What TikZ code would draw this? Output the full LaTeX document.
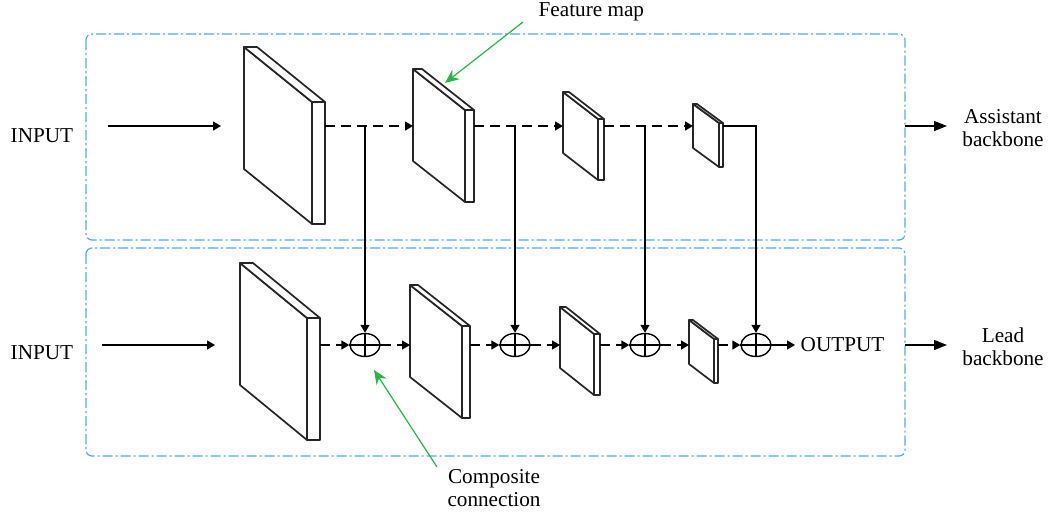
\documentclass[tikz,border=0pt]{standalone}
\usepackage{fontspec}
\setmainfont{Liberation Serif}
\usetikzlibrary{arrows.meta,positioning,shapes.geometric,calc}

\definecolor{boxblue}{RGB}{80,172,222}
\definecolor{notegreen}{RGB}{40,182,70}

% one feature map slab: name, left, top, width, drop, height, thickness
\newcommand{\featmap}[7]{%
  \draw[slab] (#2,#3) -- (#2+#4,#3+#5) -- (#2+#4,#3+#5+#6) -- (#2,#3+#6) -- cycle;
  \draw[slab] (#2,#3) -- (#2+#7,#3) -- (#2+#4+#7,#3+#5) -- (#2+#4,#3+#5) -- cycle;
  \draw[slab] (#2+#4,#3+#5) rectangle (#2+#4+#7,#3+#5+#6);
  \coordinate (#1-l) at (#2,#3);
  \coordinate (#1-r) at (#2+#4+#7,#3+#5);
}

\begin{document}
\begin{tikzpicture}[x=0.5pt,y=-0.5pt,line width=0.7pt,
		every node/.style={font=\fontsize{10.6}{11.6}\selectfont},
		slab/.style={draw=black!85,line width=0.85pt,fill=white,line join=round},
		flow/.style={-{Triangle[length=4pt,width=4.5pt]}},
		dflow/.style={flow,dash pattern=on 5pt off 3pt},
		bigflow/.style={-{Triangle[length=6.5pt,width=5pt]}},
		pointer/.style={draw=notegreen,line width=0.6pt,-{Stealth[length=7pt,width=6pt]}},
		bluebox/.style={draw=boxblue,line width=0.6pt,rounded corners=3pt,
		dash pattern=on 5pt off 1.5pt on 1pt off 1.5pt},
		adder/.style={ellipse,draw,line width=0.7pt,fill=white,inner sep=0pt,
		minimum width=15pt,minimum height=11.5pt},
		]
		\useasboundingbox (0,0) rectangle (1048,515);

		% the two backbones
		\draw[bluebox] (86,34) rectangle (905,240);
		\draw[bluebox] (86,248) rectangle (905,456);
		\coordinate (top) at (0,126);
		\coordinate (bot) at (0,345);

		% assistant backbone
		\featmap{s1}{244}{47}{68}{55}{122}{13}
		\featmap{s2}{413}{69}{52}{41}{92}{9}
		\featmap{s3}{563}{92}{35}{27}{61}{6}
		\featmap{s4}{693}{104}{26}{19}{44}{4}

		% lead backbone
		\featmap{b1}{240}{263}{67}{55}{122}{13}
		\featmap{b2}{410}{285}{52}{41}{92}{8}
		\featmap{b3}{560}{307}{34}{27}{61}{6}
		\featmap{b4}{689}{320}{25}{19}{44}{4}

		% composite connections
		\foreach \i/\x in {1/365,2/515,3/645,4/756} {
			\node[adder] (c\i) at (\x,345) {};
			\draw (c\i.north) -- (c\i.south) (c\i.west) -- (c\i.east);
		}

		% inputs
		\node[anchor=base west,inner sep=0pt] (in1) at (10,142) {INPUT};
		\node[anchor=base west,inner sep=0pt] (in2) at (10,359) {INPUT};
		\coordinate (in1-a) at (108,126);
		\coordinate (in1-b) at (221,126);
		\coordinate (in2-a) at (102,345);
		\coordinate (in2-b) at (215,345);
		\draw[flow] (in1-a) -- (in1-b);
		\draw[flow] (in2-a) -- (in2-b);

		% assistant flow
		\draw[dflow] (s1-r |- top) -- (s2-l |- top);
		\draw[dflow] (s2-r |- top) -- (s3-l |- top);
		\draw[dflow] (s3-r |- top) -- (s4-l |- top);
		\draw[flow] (s4-r |- top) -- (c4 |- top) -- (c4.north);
		\foreach \i in {1,2,3}
			\draw[flow] (c\i |- top) -- (c\i.north);

		% lead flow
		\draw[dflow] (b1-r |- bot) -- (c1.west);
		\draw[dflow] (c1.east) -- (b2-l |- bot);
		\draw[dflow] (b2-r |- bot) -- (c2.west);
		\draw[dflow] (c2.east) -- (b3-l |- bot);
		\draw[dflow] (b3-r |- bot) -- (c3.west);
		\draw[dflow] (c3.east) -- (b4-l |- bot);
		\draw[dflow] (b4-r |- bot) -- (c4.west);
		\node[anchor=west,inner sep=0pt] (out) at (800,345) {OUTPUT};
		\draw[flow] (c4.east) -- ([xshift=-2.5pt]out.west);

		% outputs of the backbones
		\node[align=center,inner sep=0pt] (asst) at (1003,128) {Assistant\\backbone};
		\node[align=center,inner sep=0pt] (lead) at (1003,347) {Lead\\backbone};
		\coordinate (asst-a) at (905,126);
		\coordinate (asst-b) at (947,126);
		\coordinate (lead-a) at (905,345);
		\coordinate (lead-b) at (947,345);
		\draw[bigflow] (asst-a) -- (asst-b);
		\draw[bigflow] (lead-a) -- (lead-b);

		% notes
		\node[anchor=base west,inner sep=0pt] (fm) at (538,16) {Feature map};
		\coordinate (fm-a) at (523,22);
		\coordinate (fm-b) at (445,83);
		\draw[pointer] (fm-a) -- (fm-b);
		\node[align=center,inner sep=0pt] (cc) at (494,488) {Composite\\connection};
		\coordinate (cc-a) at (437,467);
		\coordinate (cc-b) at (374,370);
		\draw[pointer] (cc-a) -- (cc-b);
\end{tikzpicture}
\end{document}
